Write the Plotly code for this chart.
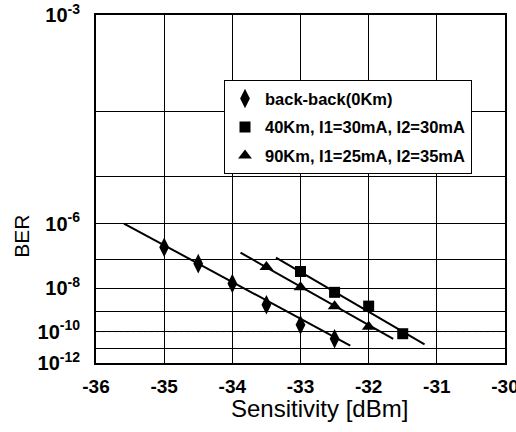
import numpy as np
import plotly.graph_objects as go

# ---------------- data ----------------
# x: received power [dBm]; y: log10(BER)
bb_x = [-35.0, -34.5, -34.0, -33.5, -33.0, -32.5]
bb_logber = [-6.63, -7.13, -7.82, -8.68, -9.64, -10.41]

km40_x = [-33.0, -32.5, -32.0, -31.5]
km40_logber = [-7.39, -8.16, -8.74, -10.12]

km90_x = [-33.5, -33.0, -32.5, -32.0]
km90_logber = [-7.24, -7.96, -8.75, -9.74]

# fitted straight lines (end points)
bb_fit_x = [-35.59, -32.27]
bb_fit_logber = [-6.0, -10.83]
km40_fit_x = [-33.36, -31.18]
km40_fit_logber = [-6.94, -10.74]
km90_fit_x = [-33.88, -31.64]
km90_fit_logber = [-6.79, -10.41]

series_names = ["back-back(0Km)", "40Km, I1=30mA, I2=30mA", "90Km, I1=25mA, I2=35mA"]

x_ticks = [-36, -35, -34, -33, -32, -31, -30]
grid_logber = [-3, -4, -5, -6, -7, -8, -9, -10, -11, -12]
label_logber = {-3: "10<sup>-3</sup>", -6: "10<sup>-6</sup>", -8: "10<sup>-8</sup>",
                -10: "10<sup>-10</sup>", -12: "10<sup>-12</sup>"}
dotted_logber = -10

# ---------------- BER probability scale ----------------
P = 0.58


def ber_axis(logber):
    return np.power(-np.asarray(logber, dtype=float), -P)


FONT = "Liberation Sans, Arial, sans-serif"

fig = go.Figure()

fits = [(bb_fit_x, bb_fit_logber), (km40_fit_x, km40_fit_logber), (km90_fit_x, km90_fit_logber)]
for fx, fy in fits:
    fig.add_trace(go.Scatter(x=fx, y=ber_axis(fy), mode="lines",
                             line=dict(color="black", width=2),
                             showlegend=False, hoverinfo="skip"))

marks = [
    (bb_x, bb_logber, "diamond-tall", 14),
    (km40_x, km40_logber, "square", 11),
    (km90_x, km90_logber, "triangle-up", 12),
]
for i, ((mx, my, sym, sz), name) in enumerate(zip(marks, series_names)):
    fig.add_trace(go.Scatter(x=mx, y=ber_axis(my), mode="markers", name=name,
                             legendgroup=f"g{i}",
                             marker=dict(symbol=sym, size=sz, color="black",
                                         line=dict(width=0))))

y_tickvals = ber_axis(grid_logber)
y_ticktext = [label_logber.get(v, "") for v in grid_logber]
ylo = ber_axis(grid_logber[-1])
yhi = ber_axis(grid_logber[0])

fig.update_layout(
    width=516, height=432,
    margin=dict(l=96, r=11, t=15, b=69, autoexpand=False),
    paper_bgcolor="white", plot_bgcolor="white",
    font=dict(family=FONT, color="black", size=18),
    showlegend=True,
    legend=dict(
        x=(224 - 96) / 409, y=(362.7 - 80) / 348,
        xanchor="left", yanchor="top",
        bgcolor="white", bordercolor="black", borderwidth=1,
        font=dict(size=16.5, family=FONT, color="black", weight="bold"),
        traceorder="grouped", tracegroupgap=4,
    ),
    xaxis=dict(
        range=[-36, -30], tickvals=x_ticks, ticktext=[str(v) for v in x_ticks],
        showgrid=True, gridcolor="black", gridwidth=1,
        showline=True, linecolor="black", linewidth=2, mirror=True,
        zeroline=False, ticks="", ticklabelstandoff=5,
        ticklabeloverflow="allow", automargin=False,
        tickfont=dict(size=19, family=FONT, color="black", weight="bold"),
    ),
    yaxis=dict(
        range=[ylo, yhi], tickvals=y_tickvals, ticktext=y_ticktext,
        showgrid=True, gridcolor="black", gridwidth=1,
        showline=True, linecolor="black", linewidth=2, mirror=True,
        zeroline=False, ticks="", ticklabelstandoff=10,
        ticklabeloverflow="allow", automargin=False,
        tickfont=dict(size=20, family=FONT, color="black", weight="bold"),
    ),
    shapes=[
        dict(type="line", xref="paper", x0=0, x1=1, yref="y",
             y0=float(ber_axis(dotted_logber)), y1=float(ber_axis(dotted_logber)),
             line=dict(color="white", width=2), layer="below"),
        dict(type="line", xref="paper", x0=0, x1=1, yref="y",
             y0=float(ber_axis(dotted_logber)), y1=float(ber_axis(dotted_logber)),
             line=dict(color="black", width=1, dash="dot"), layer="below"),
    ],
    annotations=[
        dict(text="Sensitivity [dBm]", xref="paper", yref="paper",
             x=(319 - 96) / 409, y=-(408 - 362.7) / 348, xanchor="center", yanchor="middle",
             showarrow=False, font=dict(size=24, family=FONT, color="black")),
        dict(text="BER", xref="paper", yref="paper",
             x=-(96 - 22) / 409, y=(362.7 - 236.5) / 348, xanchor="center", yanchor="middle",
             textangle=-90, showarrow=False, font=dict(size=21, family=FONT, color="black")),
    ],
)

fig.write_html("out.html")
